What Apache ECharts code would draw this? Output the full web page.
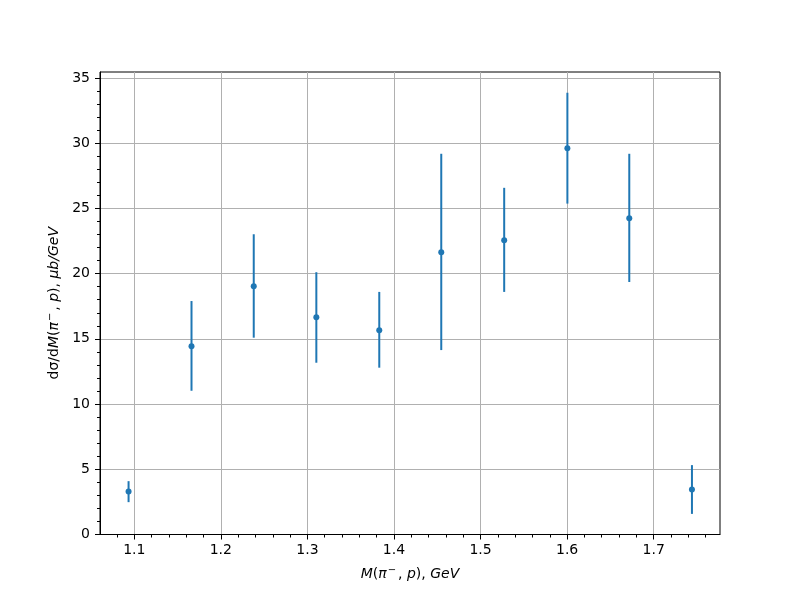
<!DOCTYPE html>
<html>
<head>
<meta charset="utf-8">
<script src="https://cdn.jsdelivr.net/npm/echarts@6/dist/echarts.min.js"></script>
<style>html,body{margin:0;padding:0;background:#fff}#c{width:800px;height:600px}</style>
</head>
<body>
<div id="c"></div>
<script>
// Data
const massValues = [1.0934, 1.1661, 1.2380, 1.3103, 1.3830, 1.4546, 1.5273, 1.6003, 1.6718, 1.7442];
const crossSection = [3.30, 14.43, 19.03, 16.65, 15.66, 21.64, 22.56, 29.62, 24.25, 3.45];
const errLow = [2.48, 11.02, 15.09, 13.17, 12.79, 14.14, 18.60, 25.37, 19.36, 1.58];
const errHigh = [4.09, 17.90, 23.02, 20.11, 18.60, 29.19, 26.58, 33.87, 29.19, 5.32];

// Tick values
const xMajorTicks = [1.1, 1.2, 1.3, 1.4, 1.5, 1.6, 1.7];
const xMinorTicks = [1.08, 1.12, 1.14, 1.16, 1.18, 1.22, 1.24, 1.26, 1.28, 1.32, 1.34, 1.36, 1.38,
  1.42, 1.44, 1.46, 1.48, 1.52, 1.54, 1.56, 1.58, 1.62, 1.64, 1.66, 1.68, 1.72, 1.74, 1.76];
const yMajorTicks = [0, 5, 10, 15, 20, 25, 30, 35];
const yMinorTicks = [1, 2, 3, 4, 6, 7, 8, 9, 11, 12, 13, 14, 16, 17, 18, 19, 21, 22, 23, 24,
  26, 27, 28, 29, 31, 32, 33, 34];

const X_MIN = 1.0604, X_MAX = 1.7766, Y_MIN = 0, Y_MAX = 35.46;
const FONT = 'DejaVu Sans';
const COLOR = '#1f77b4';

const scatterData = massValues.map((x, i) => [x, crossSection[i]]);
const errData = massValues.map((x, i) => [x, errLow[i], errHigh[i]]);

const nameRich = {
  r: { fontFamily: FONT, fontSize: 14, color: '#000', lineHeight: 18 },
  i: { fontFamily: FONT, fontSize: 14, fontStyle: 'italic', color: '#000', lineHeight: 18 },
  sup: { fontFamily: FONT, fontSize: 10, color: '#000', verticalAlign: 'top', lineHeight: 18, padding: [0, 2, 6, 1] }
};

const chart = echarts.init(document.getElementById('c'), null, { renderer: 'canvas' });
const axisLineStyle = { show: true, lineStyle: { color: '#000', width: 1 } };

chart.setOption({
  animation: false,
  backgroundColor: '#fff',
  grid: { left: 100, right: 80, top: 72, bottom: 65.5, show: true, borderColor: '#000', borderWidth: 1, backgroundColor: 'transparent' },
  xAxis: [
    {
      type: 'value', min: X_MIN, max: X_MAX, position: 'bottom',
      axisLine: axisLineStyle,
      axisTick: { show: true, customValues: xMajorTicks, length: 5, lineStyle: { color: '#000' } },
      axisLabel: { customValues: xMajorTicks, margin: 9, fontFamily: FONT, fontSize: 14, color: '#000',
        formatter: v => v.toFixed(1) },
      splitLine: { show: true, lineStyle: { color: '#b0b0b0', width: 1 } },
      name: '{i|M}{r|(}{i|π}{sup|−}{r|, }{i|p}{r|), }{i|GeV}',
      nameLocation: 'middle', nameGap: 31,
      nameTextStyle: { rich: nameRich }
    },
    {
      type: 'value', min: X_MIN, max: X_MAX, position: 'bottom',
      axisLine: { show: false },
      axisTick: { show: true, customValues: xMinorTicks, length: 3, lineStyle: { color: '#000' } },
      axisLabel: { show: false },
      splitLine: { show: false }
    }
  ],
  yAxis: [
    {
      type: 'value', min: Y_MIN, max: Y_MAX, position: 'left',
      axisLine: axisLineStyle,
      axisTick: { show: true, customValues: yMajorTicks, length: 5, lineStyle: { color: '#000' } },
      axisLabel: { customValues: yMajorTicks, margin: 10, fontFamily: FONT, fontSize: 14, color: '#000' },
      splitLine: { show: true, lineStyle: { color: '#b0b0b0', width: 1 } },
      name: '{r|dσ/d}{i|M}{r|(}{i|π}{sup|−}{r|, }{i|p}{r|), }{i|μb/GeV}',
      nameLocation: 'middle', nameGap: 37, nameRotate: 90,
      nameTextStyle: { rich: nameRich }
    },
    {
      type: 'value', min: Y_MIN, max: Y_MAX, position: 'left',
      axisLine: { show: false },
      axisTick: { show: true, customValues: yMinorTicks, length: 3, lineStyle: { color: '#000' } },
      axisLabel: { show: false },
      splitLine: { show: false }
    }
  ],
  series: [
    {
      type: 'custom',
      xAxisIndex: 0, yAxisIndex: 0,
      data: errData,
      renderItem: function (params, api) {
        const x = api.value(0);
        const p1 = api.coord([x, api.value(1)]);
        const p2 = api.coord([x, api.value(2)]);
        return {
          type: 'line',
          shape: { x1: p1[0], y1: p1[1], x2: p2[0], y2: p2[1] },
          style: { stroke: COLOR, lineWidth: 2 }
        };
      },
      z: 2
    },
    {
      type: 'scatter',
      xAxisIndex: 0, yAxisIndex: 0,
      data: scatterData,
      symbol: 'circle', symbolSize: 6,
      itemStyle: { color: COLOR, opacity: 1 },
      z: 3
    }
  ]
});
</script>
</body>
</html>
